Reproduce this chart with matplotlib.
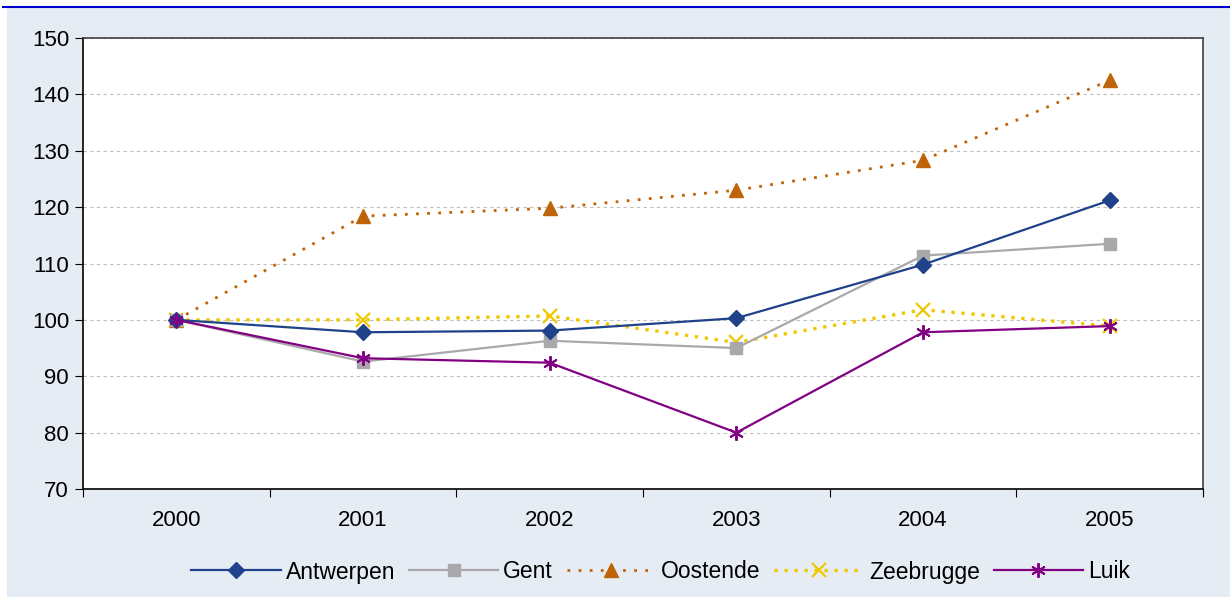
import matplotlib.pyplot as plt
from matplotlib.patches import Rectangle
from matplotlib.lines import Line2D
import numpy as np

plt.rcParams['font.family'] = ['Liberation Sans', 'DejaVu Sans']

years = ['2000', '2001', '2002', '2003', '2004', '2005']
antwerpen = [100, 97.8, 98.1, 100.3, 109.8, 121.2]
gent = [100, 92.6, 96.3, 95.0, 111.4, 113.5]
oostende = [100, 118.4, 119.8, 123.0, 128.3, 142.5]
zeebrugge = [100, 100.0, 100.7, 96.0, 101.8, 98.9]
luik = [100, 93.2, 92.4, 80.0, 97.8, 98.9]

fig = plt.figure(figsize=(12.3, 5.97), dpi=100)
fig.patch.set_facecolor('white')
fig.patches.append(Rectangle((7/1230, 0), 1 - 7/1230, 1 - 8/597, transform=fig.transFigure,
                             facecolor='#E6ECF4', edgecolor='none', zorder=-10))
fig.lines.append(Line2D([3/1230, 1], [1 - 7/597, 1 - 7/597], transform=fig.transFigure,
                        color='#0000CC', lw=1.5, zorder=-5))

ax = fig.add_axes([83/1230, 1 - 489/597, (1203 - 83)/1230, (489 - 38)/597])
ax.set_facecolor('white')
x = np.arange(len(years))

ax.plot(x, antwerpen, color='#1F428A', lw=1.6, marker='D', ms=8, label='Antwerpen', zorder=5)
ax.plot(x, gent, color='#A9A9AC', lw=1.6, marker='s', ms=8, label='Gent', zorder=4)
ax.plot(x, oostende, color='#C0640A', lw=2, ls=(0, (1, 3)), marker='^', ms=9.5, label='Oostende', zorder=3)
ax.plot(x, zeebrugge, color='#F0C800', lw=2.4, ls=(0, (1, 2)), marker='x', ms=9.5, mew=1.6,
        label='Zeebrugge', zorder=3)
ax.plot(x, luik, color='#820082', lw=1.6, marker=(6, 2, 0), ms=10.5, mew=1.4, label='Luik', zorder=6)

ax.set_ylim(70, 150)
ax.set_yticks(np.arange(70, 151, 10))
ax.set_xlim(-0.5, 5.5)
ax.set_xticks(np.arange(-0.5, 5.6, 1))
ax.set_xticklabels([])
ax.set_xticks(x, minor=True)
ax.set_xticklabels(years, minor=True)
ax.tick_params(axis='x', which='minor', length=0, pad=15, labelsize=16)
ax.tick_params(axis='x', which='major', length=6, direction='out', color='black')
ax.tick_params(axis='y', length=6, direction='out', labelsize=16, pad=4)
ax.yaxis.grid(True, ls=(0, (3, 3)), color='#BFBFBF', lw=0.8)
ax.set_axisbelow(True)

for side in ['left', 'bottom']:
    ax.spines[side].set_color('black')
    ax.spines[side].set_linewidth(1.2)
for side in ['top', 'right']:
    ax.spines[side].set_color('#404040')
    ax.spines[side].set_linewidth(1.2)

leg = fig.legend(loc='center', bbox_to_anchor=(0.537, 1 - 572/597), ncol=5, frameon=False,
                 fontsize=16.5, handlelength=3.9, handletextpad=0.22, columnspacing=0.6,
                 borderaxespad=0)

fig.savefig('out.png', dpi=100)
